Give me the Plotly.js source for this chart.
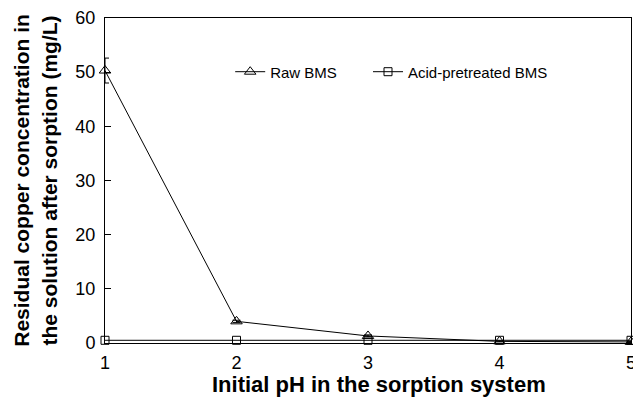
<!DOCTYPE html>
<html><head><meta charset="utf-8">
<script src="https://cdn.plot.ly/plotly-3.0.1.min.js"></script>
<style>body{margin:0;background:#fff}#c{width:633px;height:403px}</style>
</head><body><div id="c"></div>
<script>
const pH = [1, 2, 3, 4, 5];
const rawBMS = [50.3, 4.0, 1.3, 0.3, 0.2];
const rawErr = [2.3, 0.2, 0.2, 0.1, 0.1];
const acidBMS = [0.5, 0.5, 0.5, 0.5, 0.5];

const traces = [
  {x: pH, y: rawBMS, name: 'Raw BMS', type: 'scatter', mode: 'lines+markers', cliponaxis: false,
   legend: 'legend',
   line: {color: '#000', width: 1},
   marker: {symbol: 'triangle-up-open', size: 10, color: '#000', line: {width: 1}},
   error_y: {type: 'data', array: rawErr, visible: true, color: '#000', thickness: 1, width: 4}},
  {x: pH, y: acidBMS, name: 'Acid-pretreated BMS', type: 'scatter', mode: 'lines+markers', cliponaxis: false,
   legend: 'legend2',
   line: {color: '#000', width: 1},
   marker: {symbol: 'square-open', size: 8, color: '#000', line: {width: 1}}}
];

const legendBase = {orientation: 'h', xanchor: 'left', yanchor: 'middle', y: 0.834,
  font: {size: 15, color: '#000'}, bgcolor: 'rgba(0,0,0,0)', itemwidth: 30};

const layout = {
  width: 633, height: 403,
  margin: {l: 105, r: 2, t: 18, b: 60},
  paper_bgcolor: '#fff', plot_bgcolor: '#fff',
  font: {family: 'Liberation Sans, Arial, sans-serif', color: '#000'},
  showlegend: true,
  legend: Object.assign({}, legendBase, {x: 0.238}),
  legend2: Object.assign({}, legendBase, {x: 0.500}),
  xaxis: {range: [1, 5], tickvals: pH, ticktext: ['1','2','3','4','5'],
    showgrid: false, zeroline: false, showline: true, linecolor: '#000', linewidth: 1, mirror: true,
    ticks: '', tickfont: {size: 18}, ticklabeloverflow: 'allow', ticklabelstandoff: 3},
  yaxis: {range: [0, 60], dtick: 10, showgrid: false, zeroline: false,
    showline: true, linecolor: '#000', linewidth: 1, mirror: true,
    ticks: 'inside', ticklen: 6, tickcolor: '#000', tickfont: {size: 18}, ticklabelstandoff: 5,
    title: {text: '<b>Residual copper concentration in<br>the solution after sorption (mg/L)</b>', font: {size: 21}, standoff: 12}},
  annotations: [{text: '<b>Initial pH in the sorption system</b>', xref: 'paper', yref: 'paper',
    x: 0.521, y: -0.129, xanchor: 'center', yanchor: 'middle', showarrow: false,
    font: {size: 22, color: '#000'}}]
};
Plotly.newPlot('c', traces, layout, {displayModeBar: false, staticPlot: true});
</script></body></html>
